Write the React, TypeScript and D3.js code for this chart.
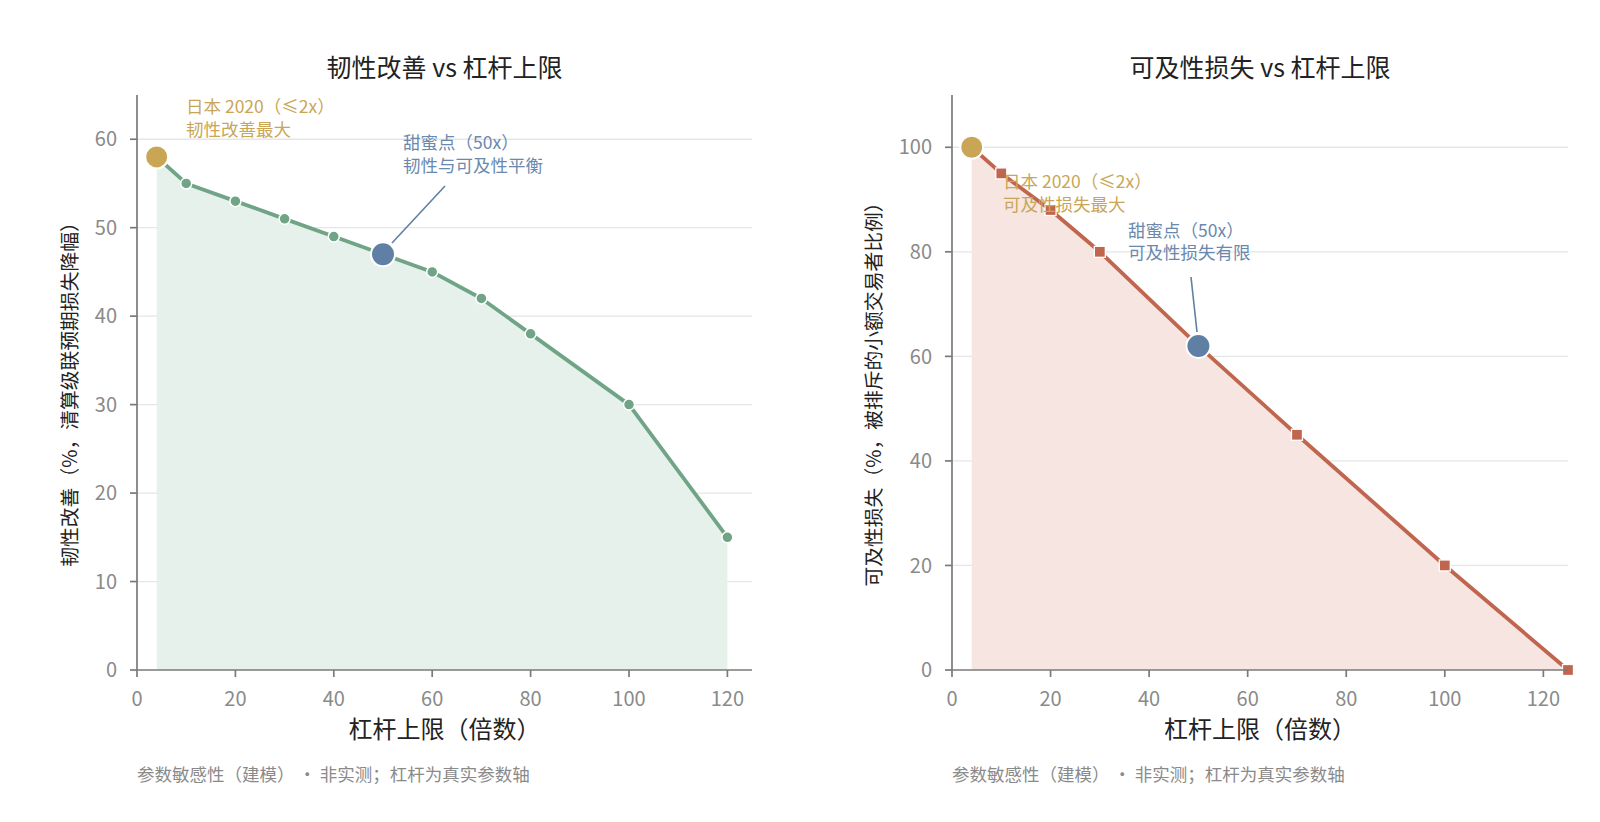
import React from "react";
import * as d3 from "d3";

const leverageA = [4, 10, 20, 30, 40, 50, 60, 70, 80, 100, 120];
const resilience = [58, 55, 53, 51, 49, 47, 45, 42, 38, 30, 15];
const leverageB = [4, 10, 20, 30, 50, 70, 100, 125];
const accessLoss = [100, 95, 88, 80, 62, 45, 20, 0];
const xTicks = [0, 20, 40, 60, 80, 100, 120];
const yTicksA = [0, 10, 20, 30, 40, 50, 60];
const yTicksB = [0, 20, 40, 60, 80, 100];

const FONT = "'Noto Sans CJK SC', 'Noto Sans', sans-serif";
const GOLD = "#c9a656";
const BLUE = "#5f80a4";
const BLUE_TEXT = "#6a89ad";
const AXIS = "#7a7a7a";
const TICK_TXT = "#8a8a8a";

type PanelProps = {
  left: number;
  right: number;
  top: number;
  bottom: number;
  xs: number[];
  ys: number[];
  yMax: number;
  yTicks: number[];
  title: string;
  yLabel: string;
  yLabelX: number;
  lineColor: string;
  fillColor: string;
  square: boolean;
  goldText: [string, string];
  goldPos: [number, number];
  blueText: [string, string];
  bluePos: [number, number];
  blueLine: [number, number, number, number];
};

function Panel(p: PanelProps) {
  const x = d3.scaleLinear().domain([0, 125]).range([p.left, p.right]);
  const y = d3.scaleLinear().domain([0, p.yMax]).range([p.bottom, p.top]);
  const pts = p.xs.map((v, i) => [v, p.ys[i]] as [number, number]);
  const line = d3.line<[number, number]>().x((d) => x(d[0])).y((d) => y(d[1]));
  const area = d3
    .area<[number, number]>()
    .x((d) => x(d[0]))
    .y0(y(0))
    .y1((d) => y(d[1]));
  const gi = p.xs.indexOf(4);
  const bi = p.xs.indexOf(50);
  const cx = (p.left + p.right) / 2;
  const [bx1, by1, bx2, by2] = p.blueLine;
  return (
    <g fontFamily={FONT}>
      <text x={cx} y={77} textAnchor="middle" fontSize={25} fill="#222">
        {p.title}
      </text>
      {p.yTicks.filter((t) => t > 0).map((t) => (
        <line key={t} x1={p.left} x2={p.right} y1={y(t)} y2={y(t)} stroke="#e6e6e6" strokeWidth={1.3} />
      ))}
      <path d={area(pts) || ""} fill={p.fillColor} />
      <path d={line(pts) || ""} fill="none" stroke={p.lineColor} strokeWidth={3.8} strokeLinejoin="round" />
      {pts.map((d, i) =>
        i === gi || i === bi ? null : p.square ? (
          <rect key={i} x={x(d[0]) - 5.5} y={y(d[1]) - 5.5} width={11} height={11} fill={p.lineColor} stroke="#fff" strokeWidth={1.3} />
        ) : (
          <circle key={i} cx={x(d[0])} cy={y(d[1])} r={5.5} fill={p.lineColor} stroke="#fff" strokeWidth={1.5} />
        )
      )}
      <line x1={bx1} y1={by1} x2={bx2} y2={by2} stroke={BLUE} strokeWidth={1.6} />
      <circle cx={x(pts[gi][0])} cy={y(pts[gi][1])} r={11.5} fill={GOLD} stroke="#fff" strokeWidth={2} />
      <circle cx={x(pts[bi][0])} cy={y(pts[bi][1])} r={12} fill={BLUE} stroke="#fff" strokeWidth={2} />
      <text x={p.goldPos[0]} y={p.goldPos[1]} fontSize={17.5} fill={GOLD}>
        <tspan x={p.goldPos[0]}>{p.goldText[0]}</tspan>
        <tspan x={p.goldPos[0]} dy={22.5}>{p.goldText[1]}</tspan>
      </text>
      <text x={p.bluePos[0]} y={p.bluePos[1]} fontSize={17.5} fill={BLUE_TEXT}>
        <tspan x={p.bluePos[0]}>{p.blueText[0]}</tspan>
        <tspan x={p.bluePos[0]} dy={22.5}>{p.blueText[1]}</tspan>
      </text>
      {/* axes */}
      <line x1={p.left} x2={p.left} y1={p.top} y2={p.bottom} stroke={AXIS} strokeWidth={1.7} />
      <line x1={p.left} x2={p.right} y1={p.bottom} y2={p.bottom} stroke={AXIS} strokeWidth={1.7} />
      {p.yTicks.map((t) => (
        <g key={t}>
          <line x1={p.left - 7} x2={p.left} y1={y(t)} y2={y(t)} stroke={AXIS} strokeWidth={1.7} />
          <text x={p.left - 20} y={y(t)} dy="0.36em" textAnchor="end" fontSize={20} fill={TICK_TXT}>
            {t}
          </text>
        </g>
      ))}
      {xTicks.map((t) => (
        <g key={t}>
          <line x1={x(t)} x2={x(t)} y1={p.bottom} y2={p.bottom + 7} stroke={AXIS} strokeWidth={1.7} />
          <text x={x(t)} y={p.bottom + 36} textAnchor="middle" fontSize={20} fill={TICK_TXT}>
            {t}
          </text>
        </g>
      ))}
      <text x={cx} y={738} textAnchor="middle" fontSize={24} fill="#222">
        杠杆上限（倍数）
      </text>
      <text
        transform={`translate(${p.yLabelX},${(p.top + p.bottom) / 2 + 7}) rotate(-90)`}
        dy="0.35em"
        textAnchor="middle"
        fontSize={19.8}
        fill="#222"
      >
        {p.yLabel}
      </text>
      <text x={p.left} y={781} fontSize={17.5} fill="#8a8a8a">
        参数敏感性（建模） · 非实测；杠杆为真实参数轴
      </text>
    </g>
  );
}

export default function App() {
  return (
    <svg
      width={1600}
      height={822}
      style={{ position: "absolute", left: 0, top: 0, background: "#fff" }}
    >
      <Panel
        left={137}
        right={752}
        top={95}
        bottom={670}
        xs={leverageA}
        ys={resilience}
        yMax={65}
        yTicks={yTicksA}
        title="韧性改善 vs 杠杆上限"
        yLabel="韧性改善（%，清算级联预期损失降幅）"
        yLabelX={70}
        lineColor="#6fa586"
        fillColor="#e7f1eb"
        square={false}
        goldText={["日本 2020（≤2x）", "韧性改善最大"]}
        goldPos={[186, 113]}
        blueText={["甜蜜点（50x）", "韧性与可及性平衡"]}
        bluePos={[403, 149]}
        blueLine={[392, 243, 445, 186]}
      />
      <Panel
        left={952}
        right={1568}
        top={95}
        bottom={670}
        xs={leverageB}
        ys={accessLoss}
        yMax={110}
        yTicks={yTicksB}
        title="可及性损失 vs 杠杆上限"
        yLabel="可及性损失（%，被排斥的小额交易者比例）"
        yLabelX={874}
        lineColor="#c0664f"
        fillColor="#f6e5e0"
        square={true}
        goldText={["日本 2020（≤2x）", "可及性损失最大"]}
        goldPos={[1003, 188]}
        blueText={["甜蜜点（50x）", "可及性损失有限"]}
        bluePos={[1128, 236.5]}
        blueLine={[1197, 332, 1191, 277]}
      />
    </svg>
  );
}
